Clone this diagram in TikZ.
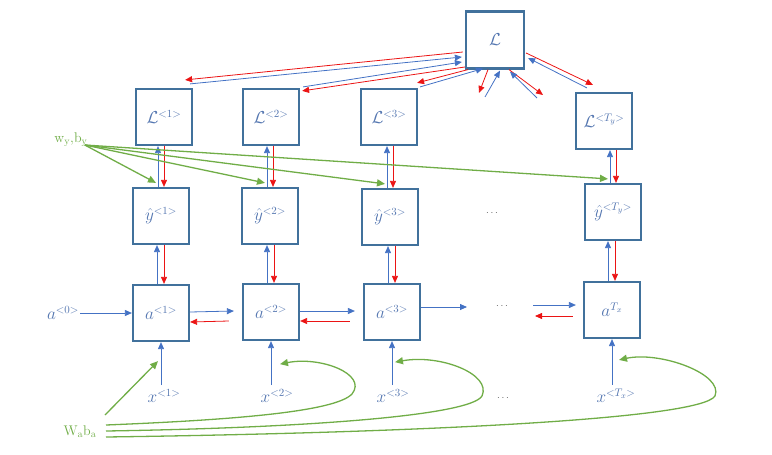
\documentclass[tikz,border=0pt]{standalone}
\usetikzlibrary{arrows.meta,calc}
\definecolor{boxc}{RGB}{65,113,156}
\definecolor{labc}{RGB}{84,118,176}
\definecolor{bluec}{RGB}{68,114,196}
\definecolor{redc}{RGB}{235,20,20}
\definecolor{greenc}{RGB}{112,173,71}
\definecolor{dotc}{RGB}{90,90,90}
\begin{document}
\begin{tikzpicture}[x=1pt,y=-1pt,
  box/.style={draw=boxc, line width=2.2pt, minimum width=56pt, minimum height=56pt, inner sep=0pt, text=labc, font=\fontsize{16}{19}\selectfont},
  lab/.style={text=labc, font=\fontsize{16}{19}\selectfont, inner sep=1pt},
  glab/.style={text=greenc, font=\fontsize{14}{16}\selectfont, inner sep=1pt},
  dotl/.style={text=dotc, inner sep=1pt},
  barr/.style={draw=bluec, line width=0.8pt, -{Triangle[length=7pt,width=6pt]}},
  rarr/.style={draw=redc, line width=0.8pt, -{Triangle[length=7pt,width=6pt]}},
  garr/.style={draw=greenc, line width=1.3pt, -{Triangle[length=8pt,width=7pt]}}]
\useasboundingbox (0,0) rectangle (772,455);

% boxes
\node[box, minimum width=58pt, minimum height=57pt] (Lt) at (495,40) {$\mathcal{L}$};
\node[box] (L1) at (164,117) {$\mathcal{L}^{<1>}$};
\node[box] (L2) at (271,117) {$\mathcal{L}^{<2>}$};
\node[box] (L3) at (389,117) {$\mathcal{L}^{<3>}$};
\node[box] (L4) at (604,121) {$\mathcal{L}^{<T_y>}$};
\node[box] (Y1) at (161,216) {$\hat{y}^{<1>}$};
\node[box] (Y2) at (270,216) {$\hat{y}^{<2>}$};
\node[box] (Y3) at (390,217) {$\hat{y}^{<3>}$};
\node[box] (Y4) at (613,212) {$\hat{y}^{<T_y>}$};
\node[box] (A1) at (161,313) {$a^{<1>}$};
\node[box] (A2) at (271,312) {$a^{<2>}$};
\node[box] (A3) at (392,312) {$a^{<3>}$};
\node[box] (A4) at (612,310) {$a^{T_x}$};

% labels
\node[lab] (a0) at (63,313) {$a^{<0>}$};
\node[lab] (x1) at (164,396) {$x^{<1>}$};
\node[lab] (x2) at (277,396) {$x^{<2>}$};
\node[lab] (x3) at (393,396) {$x^{<3>}$};
\node[lab] (x4) at (616,396) {$x^{<T_x>}$};
\node[dotl] (d1) at (492,213) {$\cdots$};
\node[dotl] (d2) at (502,306) {$\cdots$};
\node[dotl] (d3) at (503,398) {$\cdots$};
\node[glab] (wy) at (71,140) {w$_\mathrm{y}$,b$_\mathrm{y}$};
\node[glab] (wa) at (80,432) {W$_\mathrm{a}$b$_\mathrm{a}$};

% x -> a
\foreach \i in {1,2,3,4}{
  \draw[barr] ([yshift=3pt]x\i.north -| A\i.south) -- (A\i.south);
}
% a -> y (blue up), y -> a (red down); y -> L (blue up), L -> y (red down)
\foreach \i in {1,2,3,4}{
  \draw[barr] ([xshift=-4pt]A\i.north) -- ([xshift=-4pt]A\i.north |- Y\i.south);
  \draw[rarr] ([xshift=3pt]A\i.north |- Y\i.south) -- ([xshift=3pt]A\i.north);
  \draw[barr] ([xshift=-3pt]Y\i.north) -- ([xshift=-3pt]Y\i.north |- L\i.south);
  \draw[rarr] ([xshift=3pt]Y\i.north |- L\i.south) -- ([xshift=3pt]Y\i.north);
}

% horizontal recurrence
\draw[barr] (a0.east) -- (A1.west);
\draw[barr] ([yshift=1pt]A1.east) -- ($(A2.west)+(-8,-1)$);
\draw[rarr] ($(A2.west)+(-13,9)$) -- ([yshift=-9pt]A1.east);
\draw[barr] ([yshift=1pt]A2.east) -- ($(A3.west)+(-8,-1)$);
\draw[rarr] ($(A3.west)+(-13,9)$) -- ([yshift=-9pt]A2.east);
\coordinate (h1) at (467,307);
\coordinate (h2) at (533,305);
\coordinate (h3) at (535,316);
\draw[barr] ([yshift=5pt]A3.east) -- (h1);
\draw[barr] (h2) -- ($(A4.west)+(-7,-5)$);
\draw[rarr] ($(A4.west)+(-10,6)$) -- (h3);

% loss connections
\draw[rarr] ($(Lt.west)+(-2,12)$) -- ($(L1.north east)+(-8,-8)$);
\draw[barr] ($(L1.north east)+(-3,-4)$) -- ($(Lt.west)+(-3,17)$);
\draw[barr] ($(L2.north east)+(3,-1)$) -- ($(Lt.west)+(-3,22)$);
\draw[rarr] ($(Lt.west)+(0,27)$) -- ($(L2.north east)+(2,3)$);
\draw[rarr] ($(Lt.south west)+(3,0)$) -- ($(L3.north east)+(-1,-5)$);
\draw[barr] ($(L3.north east)+(2,-1)$) -- ($(Lt.south west)+(18,-1)$);
\coordinate (s1) at (479,93);
\coordinate (s1b) at (485,97);
\coordinate (s2) at (543,95);
\coordinate (s2b) at (537,98);
\draw[rarr] ($(Lt.south)+(-7,0)$) -- (s1);
\draw[barr] (s1b) -- ($(Lt.south)+(5,1)$);
\draw[rarr] ($(Lt.south)+(14,0)$) -- (s2);
\draw[barr] (s2b) -- ($(Lt.south)+(15,2)$);
\draw[rarr] ($(Lt.east)+(1,13)$) -- ($(L4.north west)+(18,-7)$);
\draw[barr] ($(L4.north west)+(12,-4)$) -- ($(Lt.east)+(3,18)$);

% green w_y, b_y
\coordinate (wys) at ($(wy.east)+(-4,5)$);
\foreach \i in {1,2,3,4}{
  \draw[garr] (wys) -- ($(Y\i.north)+(-5,-4)$);
}

% green W_a, b_a
\coordinate (was) at (105,415);
\draw[garr] (was) -- ($(A1.south)+(-3,19)$);
\draw[garr] (106,425) .. controls (230,420) and (335,412) .. (352,394) .. controls (368,374) and (320,356) .. ($(x2.north)+(3,-24)$);
\draw[garr] (106,431) .. controls (300,428) and (470,416) .. (482,396) .. controls (492,374) and (440,354) .. ($(x3.north)+(2,-26)$);
\draw[garr] (106,437) .. controls (400,433) and (700,420) .. (715,396) .. controls (724,374) and (660,351) .. ($(x4.north)+(3,-28)$);
\end{tikzpicture}
\end{document}
